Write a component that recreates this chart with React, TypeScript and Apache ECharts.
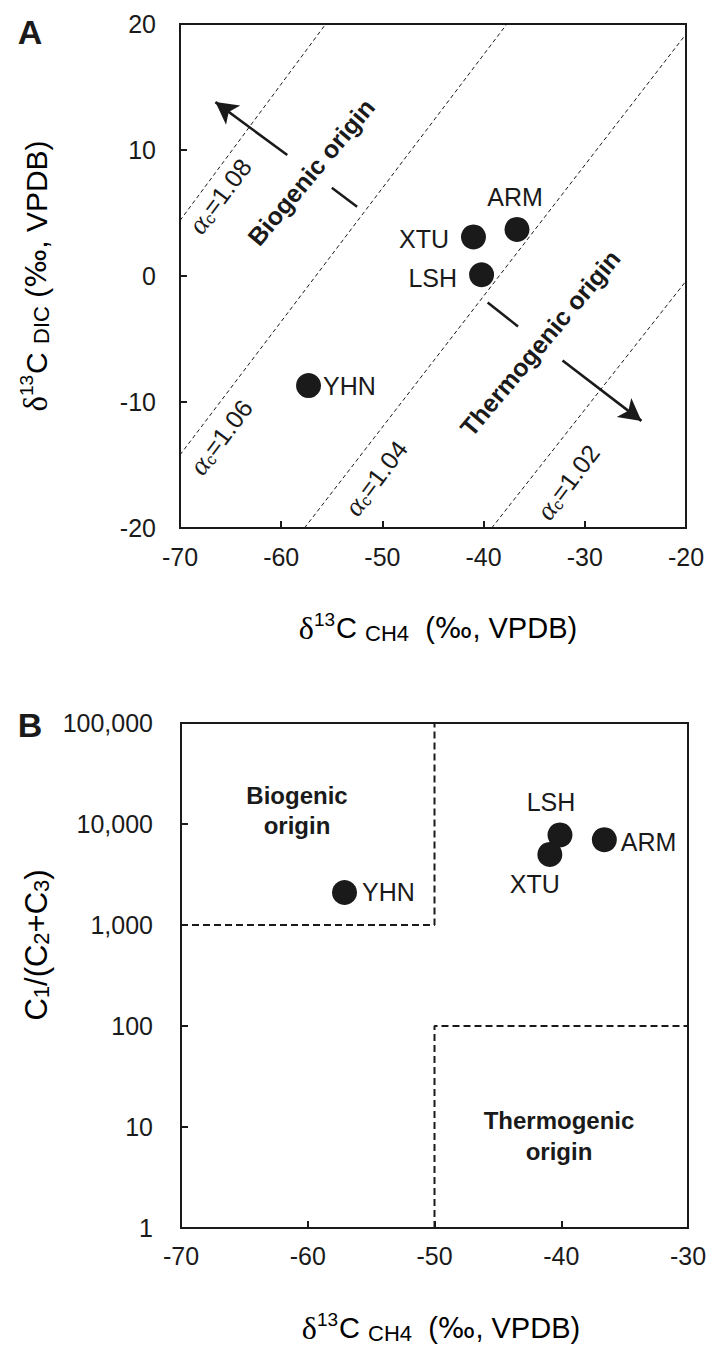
import React, { useEffect, useRef } from 'react';
import * as echarts from 'echarts';

const INK = '#1a1a1a';
const SANS = 'Liberation Sans, Arial, sans-serif';
const SERIF = 'Liberation Serif, Times New Roman, serif';
const WIDE = 'DejaVu Sans, Liberation Sans, sans-serif';

// ---------- Panel A data ----------
const sitesA = ['ARM', 'XTU', 'LSH', 'YHN'];
const ch4A = [-36.7, -41.0, -40.2, -57.3];
const dicA = [3.7, 3.1, 0.1, -8.7];

// alpha_c isolines (end points)
const alphaValues = ['1.08', '1.06', '1.04', '1.02'];
const alphaLineStart = [[-70, 4.4], [-70, -14.2], [-57.7, -20], [-39.2, -20]];
const alphaLineEnd = [[-55.6, 20], [-37.7, 20], [-20, 19.2], [-20, -0.4]];

const xTicksA = [-70, -60, -50, -40, -30, -20];
const yTicksA = [-20, -10, 0, 10, 20];

// arrows and short bars (data coords)
const bioArrow = [[-59.4, 9.6], [-66.5, 13.8]];
const bioDash = [[-55.0, 7.0], [-52.5, 5.5]];
const thermoDash = [[-39.6, -2.1], [-36.6, -4.0]];
const thermoArrow = [[-32.2, -6.7], [-24.4, -11.5]];

// ---------- Panel B data ----------
const sitesB = ['LSH', 'ARM', 'XTU', 'YHN'];
const ch4B = [-40.1, -36.6, -40.9, -57.1];
const ratioB = [7800, 7000, 5000, 2100];

const xTicksB = [-70, -60, -50, -40, -30];
const yTickLabelsB = ['1', '10', '100', '1,000', '10,000', '100,000'];

const bioBox = [[-70, 1000], [-50, 1000], [-50, 100000]];
const thermoBox = [[-50, 1], [-50, 100], [-30, 100]];

// label placement (style, not data)
const labelPlaceA: Record<string, any> = {
  ARM: { position: 'top', distance: 7, offset: [-2, 0] },
  XTU: { position: 'left', distance: 12, offset: [0, 2] },
  LSH: { position: 'left', distance: 12, offset: [0, 3] },
  YHN: { position: 'right', distance: 2, offset: [0, 0] },
};
const labelPlaceB: Record<string, any> = {
  LSH: { position: 'top', distance: 8, offset: [-9, 0] },
  ARM: { position: 'right', distance: 4, offset: [0, 2] },
  XTU: { position: 'bottom', distance: 5, offset: [-15, 0] },
  YHN: { position: 'right', distance: 5, offset: [0, 0] },
};

const deg = (d: number) => (d * Math.PI) / 180;

const titleRich = (main: number, sub: number, sup: number) => ({
  d: { fontFamily: SERIF, fontSize: main + 3, color: INK },
  sup: { fontFamily: SANS, fontSize: sup, color: INK, padding: [0, 1, Math.round(main * 0.62), 0] },
  m: { fontFamily: SANS, fontSize: main, color: INK },
  pm: { fontFamily: WIDE, fontSize: main - 1, color: INK },
  sub: { fontFamily: SANS, fontSize: sub, color: INK, padding: [Math.round(main * 0.34), 0, 0, 0] },
});

const alphaRich = {
  a: { fontFamily: SERIF, fontStyle: 'italic', fontSize: 28, color: INK },
  c: { fontFamily: SANS, fontSize: 16, color: INK, padding: [11, 0, 0, 0] },
  n: { fontFamily: SANS, fontSize: 25, color: INK },
};

const alphaLabelPos = [[220, 196], [221, 437], [376, 478], [568, 482]];

export default function App() {
  const ref = useRef<HTMLDivElement>(null);

  useEffect(() => {
    document.body.style.margin = '0';
    if (!ref.current) return;
    const chart = echarts.init(ref.current, undefined, { renderer: 'svg' });

    const axisLine = { show: true, onZero: false, lineStyle: { color: INK, width: 2 } };
    const axisTick = { show: true, inside: true, length: 7, lineStyle: { color: INK, width: 2 } };

    const scatterA = sitesA.map((n, i) => ({
      name: n,
      value: [ch4A[i], dicA[i]],
      label: { show: true, formatter: n, ...labelPlaceA[n] },
    }));
    const scatterB = sitesB.map((n, i) => ({
      name: n,
      value: [ch4B[i], ratioB[i]],
      label: { show: true, formatter: n, ...labelPlaceB[n] },
    }));

    const alphaSeries = alphaValues.map((a, i) => ({
      type: 'line',
      name: 'alpha ' + a,
      xAxisIndex: 0,
      yAxisIndex: 0,
      data: [alphaLineStart[i], alphaLineEnd[i]],
      symbol: 'none',
      silent: true,
      lineStyle: { color: INK, width: 1, type: [4, 3] },
      z: 1,
    }));

    const barSeries = [bioDash, thermoDash].map((d) => ({
      type: 'line',
      xAxisIndex: 0,
      yAxisIndex: 0,
      data: d,
      symbol: 'none',
      silent: true,
      lineStyle: { color: INK, width: 2.5, type: 'solid' },
    }));

    const tickFont = { fontSize: 25, color: INK, fontFamily: SANS };

    const option: any = {
      animation: false,
      textStyle: { fontFamily: SANS },
      grid: [
        { left: 180, top: 24, width: 506, height: 504, show: true, borderColor: INK, borderWidth: 2 },
        { left: 181, top: 723, width: 507, height: 505, show: true, borderColor: INK, borderWidth: 2 },
      ],
      xAxis: [
        {
          gridIndex: 0, type: 'value', min: xTicksA[0], max: xTicksA[xTicksA.length - 1], interval: 10,
          axisLine, axisTick, splitLine: { show: false },
          axisLabel: { ...tickFont, margin: 16 },
        },
        {
          gridIndex: 1, type: 'value', min: xTicksB[0], max: xTicksB[xTicksB.length - 1], interval: 10,
          axisLine, axisTick, splitLine: { show: false },
          axisLabel: { ...tickFont, margin: 15 },
        },
      ],
      yAxis: [
        {
          gridIndex: 0, type: 'value', min: yTicksA[0], max: yTicksA[yTicksA.length - 1], interval: 10,
          axisLine, axisTick, splitLine: { show: false },
          axisLabel: { ...tickFont, margin: 24 },
        },
        {
          gridIndex: 1, type: 'log', logBase: 10, min: 1, max: 100000,
          axisLine, axisTick, splitLine: { show: false }, minorTick: { show: false },
          axisLabel: {
            ...tickFont, margin: 28,
            formatter: (v: number) => yTickLabelsB[Math.round(Math.log10(v))] ?? '',
          },
        },
      ],
      series: [
        ...alphaSeries,
        ...barSeries,
        {
          type: 'line',
          xAxisIndex: 0,
          yAxisIndex: 0,
          data: [],
          silent: true,
          markLine: {
            silent: true,
            symbol: ['none', 'arrow'],
            symbolSize: [18, 22],
            label: { show: false },
            lineStyle: { color: INK, width: 2.6, type: 'solid' },
            data: [
              [{ coord: bioArrow[0] }, { coord: bioArrow[1] }],
              [{ coord: thermoArrow[0] }, { coord: thermoArrow[1] }],
            ],
          },
        },
        {
          type: 'scatter',
          xAxisIndex: 0,
          yAxisIndex: 0,
          symbol: 'circle',
          symbolSize: 25,
          itemStyle: { color: INK, opacity: 1 },
          label: { fontSize: 25, color: INK, fontFamily: SANS },
          data: scatterA,
          z: 5,
        },
        {
          type: 'line',
          xAxisIndex: 1,
          yAxisIndex: 1,
          data: bioBox,
          symbol: 'none',
          silent: true,
          lineStyle: { color: INK, width: 2, type: [7, 4] },
        },
        {
          type: 'line',
          xAxisIndex: 1,
          yAxisIndex: 1,
          data: thermoBox,
          symbol: 'none',
          silent: true,
          lineStyle: { color: INK, width: 2, type: [7, 4] },
        },
        {
          type: 'scatter',
          xAxisIndex: 1,
          yAxisIndex: 1,
          symbol: 'circle',
          symbolSize: 25,
          itemStyle: { color: INK, opacity: 1 },
          label: { fontSize: 25, color: INK, fontFamily: SANS },
          data: scatterB,
          z: 5,
        },
      ],
      graphic: [
        // panel letters
        { type: 'text', x: 30, y: 32, style: { text: 'A', font: 'bold 34px ' + SANS, fill: INK, align: 'center', verticalAlign: 'middle' } },
        { type: 'text', x: 30, y: 725, style: { text: 'B', font: 'bold 34px ' + SANS, fill: INK, align: 'center', verticalAlign: 'middle' } },
        // alpha labels
        ...alphaValues.map((a, i) => ({
          type: 'text',
          x: alphaLabelPos[i][0],
          y: alphaLabelPos[i][1],
          rotation: deg(53),
          style: {
            text: '{a|α}{c|c}{n|=' + a + '}',
            rich: alphaRich,
            align: 'center',
            verticalAlign: 'middle',
            fill: INK,
          },
        })),
        // region labels A
        {
          type: 'text', x: 311, y: 172, rotation: deg(50),
          style: { text: 'Biogenic origin', font: 'bold 25px ' + SANS, fill: INK, align: 'center', verticalAlign: 'middle' },
        },
        {
          type: 'text', x: 540, y: 343, rotation: deg(50),
          style: { text: 'Thermogenic origin', font: 'bold 25px ' + SANS, fill: INK, align: 'center', verticalAlign: 'middle' },
        },
        // region labels B
        {
          type: 'text', x: 297, y: 810,
          style: { text: 'Biogenic\norigin', font: 'bold 24px ' + SANS, fill: INK, align: 'center', verticalAlign: 'middle', lineHeight: 30 },
        },
        {
          type: 'text', x: 559, y: 1136,
          style: { text: 'Thermogenic\norigin', font: 'bold 24px ' + SANS, fill: INK, align: 'center', verticalAlign: 'middle', lineHeight: 31 },
        },
        // axis titles
        {
          type: 'text', x: 438, y: 628,
          style: { text: '{d|δ}{sup|13}{m|C }{sub|CH4}{m|  (}{pm|‰}{m|, VPDB)}', rich: titleRich(29, 22, 19), align: 'center', verticalAlign: 'middle' },
        },
        {
          type: 'text', x: 441, y: 1328,
          style: { text: '{d|δ}{sup|13}{m|C }{sub|CH4}{m|  (}{pm|‰}{m|, VPDB)}', rich: titleRich(29, 22, 19), align: 'center', verticalAlign: 'middle' },
        },
        {
          type: 'text', x: 36, y: 276, rotation: deg(90),
          style: { text: '{d|δ}{sup|13}{m|C }{sub|DIC}{m| (}{pm|‰}{m|, VPDB)}', rich: titleRich(30, 22, 19), align: 'center', verticalAlign: 'middle' },
        },
        {
          type: 'text', x: 36, y: 945, rotation: deg(90),
          style: {
            text: '{m|C}{sub|1}{m|/(C}{sub|2}{m|+C}{sub|3}{m|)}',
            rich: titleRich(31, 22, 20),
            align: 'center',
            verticalAlign: 'middle',
          },
        },
      ],
    };

    chart.setOption(option);
    return () => chart.dispose();
  }, []);

  return <div ref={ref} style={{ width: 722, height: 1364 }} />;
}
